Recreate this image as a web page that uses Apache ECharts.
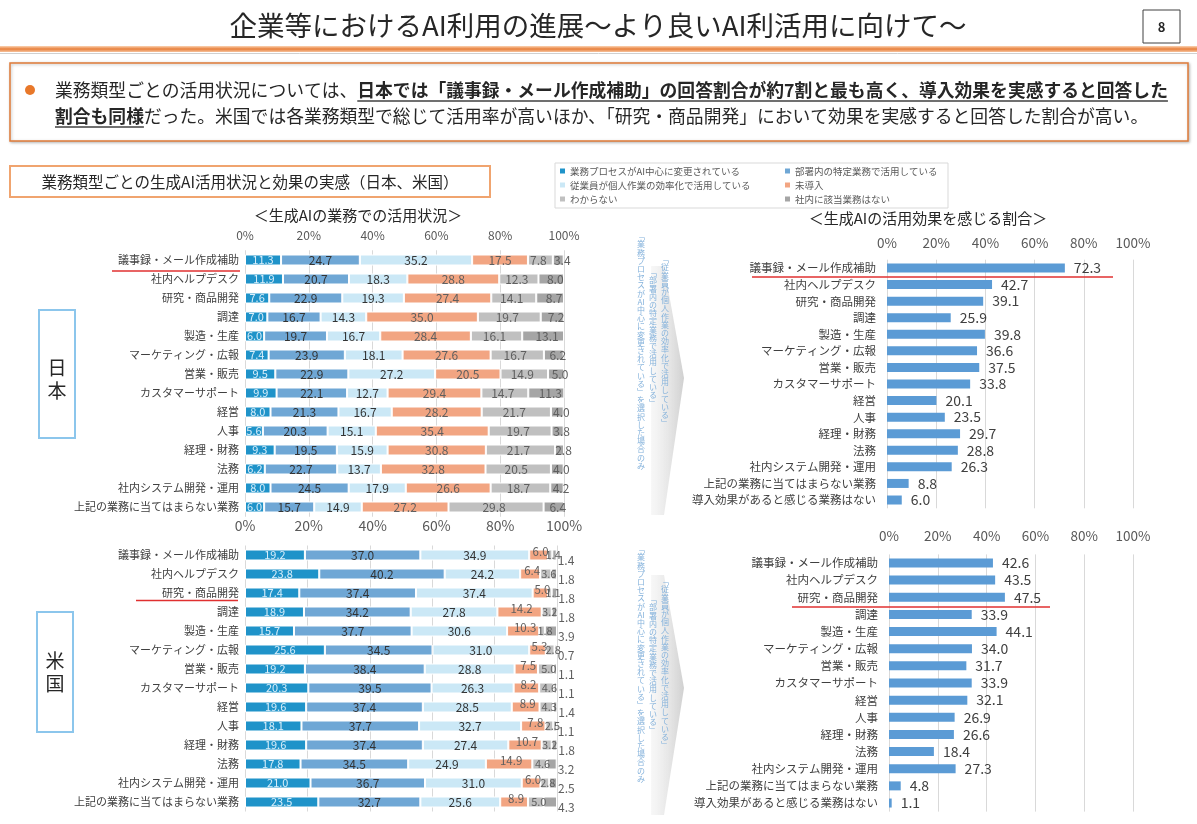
<!DOCTYPE html>
<html><head><meta charset="utf-8">
<script src="https://cdn.jsdelivr.net/npm/echarts@6/dist/echarts.min.js"></script>
<style>html,body{margin:0;padding:0;background:#fff}#c{width:1197px;height:824px}</style>
</head><body><div id="c"></div>
<script>
const FONT = '"Noto Sans CJK JP", "Noto Sans", sans-serif';

const categories = ['議事録・メール作成補助','社内ヘルプデスク','研究・商品開発','調達','製造・生産','マーケティング・広報','営業・販売','カスタマーサポート','経営','人事','経理・財務','法務','社内システム開発・運用','上記の業務に当てはまらない業務'];
const categoriesEffect = categories.concat(['導入効果があると感じる業務はない']);
const seriesNames = ['業務プロセスがAI中心に変更されている','部署内の特定業務で活用している','従業員が個人作業の効率化で活用している','未導入','わからない','社内に該当業務はない'];
const xTicks = [0,20,40,60,80,100];

// 日本
const jpAi       = [11.3, 11.9, 7.6, 7.0, 6.0, 7.4, 9.5, 9.9, 8.0, 5.6, 9.3, 6.2, 8.0, 6.0];
const jpDept     = [24.7, 20.7, 22.9, 16.7, 19.7, 23.9, 22.9, 22.1, 21.3, 20.3, 19.5, 22.7, 24.5, 15.7];
const jpPersonal = [35.2, 18.3, 19.3, 14.3, 16.7, 18.1, 27.2, 12.7, 16.7, 15.1, 15.9, 13.7, 17.9, 14.9];
const jpNone     = [17.5, 28.8, 27.4, 35.0, 28.4, 27.6, 20.5, 29.4, 28.2, 35.4, 30.8, 32.8, 26.6, 27.2];
const jpUnknown  = [7.8, 12.3, 14.1, 19.7, 16.1, 16.7, 14.9, 14.7, 21.7, 19.7, 21.7, 20.5, 18.7, 29.8];
const jpNoTask   = [3.4, 8.0, 8.7, 7.2, 13.1, 6.2, 5.0, 11.3, 4.0, 3.8, 2.8, 4.0, 4.2, 6.4];
// 米国
const usAi       = [19.2, 23.8, 17.4, 18.9, 15.7, 25.6, 19.2, 20.3, 19.6, 18.1, 19.6, 17.8, 21.0, 23.5];
const usDept     = [37.0, 40.2, 37.4, 34.2, 37.7, 34.5, 38.4, 39.5, 37.4, 37.7, 37.4, 34.5, 36.7, 32.7];
const usPersonal = [34.9, 24.2, 37.4, 27.8, 30.6, 31.0, 28.8, 26.3, 28.5, 32.7, 27.4, 24.9, 31.0, 25.6];
const usNone     = [6.0, 6.4, 5.0, 14.2, 10.3, 5.3, 7.5, 8.2, 8.9, 7.8, 10.7, 14.9, 6.0, 8.9];
const usUnknown  = [1.4, 3.6, 1.1, 3.2, 1.8, 2.8, 5.0, 4.6, 4.3, 2.5, 3.2, 4.6, 2.8, 5.0];
const usNoTask   = [1.4, 1.8, 1.8, 1.8, 3.9, 0.7, 1.1, 1.1, 1.4, 1.1, 1.8, 3.2, 2.5, 4.3];
// 効果を感じる割合
const jpEffect = [72.3, 42.7, 39.1, 25.9, 39.8, 36.6, 37.5, 33.8, 20.1, 23.5, 29.7, 28.8, 26.3, 8.8, 6.0];
const usEffect = [42.6, 43.5, 47.5, 33.9, 44.1, 34.0, 31.7, 33.9, 32.1, 26.9, 26.6, 18.4, 27.3, 4.8, 1.1];

const colors = ['#1f93c9','#6fa7d5','#cbe8f6','#f2a582','#c0c0c0','#a5a5a5'];

const ctx = document.createElement('canvas').getContext('2d');
function tw(t, size, weight){ ctx.font = (weight||'normal') + ' ' + size + 'px "Noto Sans CJK JP"'; return ctx.measureText(t).width; }
function vert(s){ const out=[]; for(let i=0;i<s.length;i++){ if(s[i]==='A' && s[i+1]==='I'){out.push('AI');i++;} else out.push(s[i]); } return out.join('\n'); }

const fmt = p => Number(p.value).toFixed(1);
function stack(idx, data, xi, yi, bw, label){
  return {type:'bar', name:seriesNames[idx], data, xAxisIndex:xi, yAxisIndex:yi, stack:'s'+yi, barWidth:bw,
    itemStyle:{color:colors[idx], borderColor:'#fff', borderWidth:1},
    label:Object.assign({show:true, position:'inside', fontSize:12, color:'#404040', fontFamily:FONT, formatter:fmt}, label||{}),
    emphasis:{disabled:true}};
}

const axisLabelX = (size) => ({fontSize:size, color:'#595959', fontFamily:FONT, formatter:'{value}%'});
const splitL = {show:true, lineStyle:{color:'#d9d9d9', width:1}};
function xAx(grid, pos, show, size, margin){
  return {type:'value', gridIndex:grid, position:pos, min:0, max:100, interval:20,
    axisLine:{show:false}, axisTick:{show:false}, splitLine:splitL,
    axisLabel: show ? Object.assign(axisLabelX(size), {margin}) : {show:false}};
}
function yAx(grid, data, size, margin){
  return {type:'category', gridIndex:grid, data, inverse:true, axisLine:{show:false}, axisTick:{show:false},
    axisLabel:{fontSize:size, color:'#404040', fontFamily:FONT, margin}};
}

// texts for summary box
const L1a = '業務類型ごとの活用状況については、';
const L1b = '日本では「議事録・メール作成補助」の回答割合が約7割と最も高く、導入効果を実感すると回答した';
const L2a = '割合も同様';
const L2b = 'だった。米国では各業務類型で総じて活用率が高いほか、「研究・商品開発」において効果を実感すると回答した割合が高い。';
const FS = 17.8;
const x0 = 55;
const w1a = tw(L1a, FS), w1b = tw(L1b, FS, 'bold'), w2a = tw(L2a, FS, 'bold');

function T(text, x, y, size, opt){ return {type:'text', z:10, style:Object.assign({text, x, y, fontSize:size, fontFamily:FONT, fill:'#262626', textAlign:'left', textVerticalAlign:'middle'}, opt||{})}; }
function Ln(x1,y1,x2,y2,color,w){ return {type:'line', z:10, shape:{x1,y1,x2,y2}, style:{stroke:color, lineWidth:w}}; }

const vColor = '#86b3dc';
function vCol(text, x, y){ return {type:'text', z:12, style:{text:vert(text), x, y, fontSize:8, lineHeight:8.2, fontFamily:FONT, fill:vColor, textAlign:'center', textVerticalAlign:'top'}}; }
function arrow(top, apexY, bottom){
  return {type:'polygon', z:5, shape:{points:[[651,top],[664,top],[684,apexY],[664,bottom],[651,bottom]]},
    style:{fill:new echarts.graphic.LinearGradient(0,0,1,0,[{offset:0,color:'rgba(225,225,225,0.25)'},{offset:1,color:'rgba(200,200,200,0.85)'}])}};
}

const graphic = [
  T('企業等におけるAI利用の進展～より良いAI利活用に向けて～', 598, 26, 27.5, {textAlign:'center'}),
  {type:'rect', z:10, shape:{x:1143,y:10,width:37,height:33}, style:{fill:'#fff', stroke:'#404040', lineWidth:1}},
  T('8', 1161.5, 27, 13, {textAlign:'center', fontWeight:'bold'}),
  {type:'rect', z:9, shape:{x:0,y:46,width:1197,height:6}, style:{fill:new echarts.graphic.LinearGradient(0,0,0,1,[{offset:0,color:'#fbd3b3'},{offset:0.5,color:'#e8803c'},{offset:1,color:'#f6c29c'}])}},
  Ln(0,53.5,1197,53.5,'#d0d0d0',1),
  {type:'rect', z:9, shape:{x:10,y:63,width:1178,height:78}, style:{fill:'#fff', stroke:'#e07b39', lineWidth:1.5, shadowBlur:3, shadowColor:'rgba(0,0,0,0.25)', shadowOffsetX:1, shadowOffsetY:1}},
  {type:'circle', z:10, shape:{cx:30, cy:90, r:5}, style:{fill:'#e8782a'}},
  T(L1a, x0, 90, FS),
  T(L1b, x0 + w1a, 90, FS, {fontWeight:'bold'}),
  Ln(x0 + w1a, 101, x0 + w1a + w1b, 101, '#404040', 1.5),
  T(L2a, x0, 116, FS, {fontWeight:'bold'}),
  Ln(x0, 127, x0 + w2a, 127, '#404040', 1.5),
  T(L2b, x0 + w2a, 116, FS),
  {type:'rect', z:9, shape:{x:10,y:166,width:480,height:31}, style:{fill:'#fff', stroke:'#f0a46f', lineWidth:2}},
  T('業務類型ごとの生成AI活用状況と効果の実感（日本、米国）', 250, 182, 15.5, {textAlign:'center'}),
  {type:'rect', z:1, shape:{x:555,y:163,width:393,height:45}, style:{fill:'#fff', stroke:'#d9d9d9', lineWidth:1}},
  T('＜生成AIの業務での活用状況＞', 358, 215, 15, {textAlign:'center'}),
  T('＜生成AIの活用効果を感じる割合＞', 928, 218, 15, {textAlign:'center'}),
  // country boxes
  {type:'rect', z:9, shape:{x:39,y:310,width:36,height:128}, style:{fill:'#fff', stroke:'#8cc6ec', lineWidth:2}},
  {type:'text', z:10, style:{text:'日\n本', x:57, y:379, fontSize:19, lineHeight:23, fontFamily:FONT, fill:'#262626', textAlign:'center', textVerticalAlign:'middle'}},
  {type:'rect', z:9, shape:{x:37,y:612,width:36,height:120}, style:{fill:'#fff', stroke:'#8cc6ec', lineWidth:2}},
  {type:'text', z:10, style:{text:'米\n国', x:55, y:672, fontSize:19, lineHeight:23, fontFamily:FONT, fill:'#262626', textAlign:'center', textVerticalAlign:'middle'}},
  // red underlines
  Ln(112,271,240,271,'#e03030',1.3),
  Ln(136,600.5,238,600.5,'#e03030',1.3),
  Ln(752,277,1113,277,'#e03030',1.3),
  Ln(792,607,1050,607,'#e03030',1.3),
  // arrows + vertical notes
  arrow(266, 378, 515),
  arrow(575, 688, 815),
  vCol('﹁業務プロセスがAI中心に変更されている﹂を選択した場合のみ', 641, 232),
  vCol('﹁部署内の特定業務で活用している﹂', 653, 268),
  vCol('﹁従業員が個人作業の効率化で活用している﹂', 665, 255),
  vCol('﹁業務プロセスがAI中心に変更されている﹂を選択した場合のみ', 641, 545),
  vCol('﹁部署内の特定業務で活用している﹂', 653, 595),
  vCol('﹁従業員が個人作業の効率化で活用している﹂', 665, 577)
];

const legendText = {fontSize:9.5, color:'#595959', fontFamily:FONT, lineHeight:10};
const option = {
  animation:false,
  textStyle:{fontFamily:FONT},
  legend:[
    {data:[seriesNames[0],seriesNames[2],seriesNames[4]], orient:'vertical', left:560, top:166, itemWidth:5, itemHeight:5, itemGap:4, itemStyle:{borderWidth:0}, icon:'rect', textStyle:legendText, padding:0, selectedMode:false},
    {data:[seriesNames[1],seriesNames[3],seriesNames[5]], orient:'vertical', left:785, top:166, itemWidth:5, itemHeight:5, itemGap:4, itemStyle:{borderWidth:0}, icon:'rect', textStyle:legendText, padding:0, selectedMode:false}
  ],
  grid:[
    {left:245, top:250.5, width:319, height:266},
    {left:245, top:545.5, width:312, height:266},
    {left:887, top:259.7, width:246, height:248.6},
    {left:889, top:554.4, width:244, height:257.2}
  ],
  xAxis:[
    xAx(0,'top',true,12,9),
    xAx(0,'bottom',true,14,2),
    xAx(1,'top',false),
    xAx(2,'top',true,13.5,10),
    xAx(3,'top',true,13.5,12)
  ],
  yAxis:[
    yAx(0,categories,11,6),
    yAx(1,categories,11,6),
    yAx(2,categoriesEffect,11.5,11),
    yAx(3,categoriesEffect,11.5,11)
  ],
  series:[
    stack(0, jpAi, 0,0,11, {color:'#d8eefa', fontSize:11}),
    stack(1, jpDept, 0,0,11, {color:'#333'}),
    stack(2, jpPersonal, 0,0,11, {color:'#333'}),
    stack(3, jpNone, 0,0,11, {color:'#5f5f5f'}),
    stack(4, jpUnknown, 0,0,11, {color:'#5f5f5f', offset:[-2,0]}),
    stack(5, jpNoTask, 0,0,11, {color:'#5f5f5f', offset:[4,0]}),
    stack(0, usAi, 2,1,11, {color:'#d8eefa', fontSize:11}),
    stack(1, usDept, 2,1,11, {color:'#333'}),
    stack(2, usPersonal, 2,1,11, {color:'#333'}),
    stack(3, usNone, 2,1,11, {color:'#5f5f5f', offset:[2,-3], fontSize:11.5}),
    stack(4, usUnknown, 2,1,11, {color:'#5f5f5f', offset:[3,0], fontSize:11}),
    stack(5, usNoTask, 2,1,11, {color:'#5f5f5f', position:'right', distance:1, offset:[0,5], fontSize:12}),
    {type:'bar', name:'効果を感じる割合（日本）', data:jpEffect, xAxisIndex:3, yAxisIndex:2, barWidth:9,
      itemStyle:{color:'#5b9bd5'}, label:{show:true, position:'right', distance:9, fontSize:14, color:'#404040', fontFamily:FONT, formatter:fmt}, emphasis:{disabled:true}},
    {type:'bar', name:'効果を感じる割合（米国）', data:usEffect, xAxisIndex:4, yAxisIndex:3, barWidth:9,
      itemStyle:{color:'#5b9bd5'}, label:{show:true, position:'right', distance:9, fontSize:14, color:'#404040', fontFamily:FONT, formatter:fmt}, emphasis:{disabled:true}}
  ],
  graphic
};
const chart = echarts.init(document.getElementById('c'));
chart.setOption(option);
</script></body></html>
